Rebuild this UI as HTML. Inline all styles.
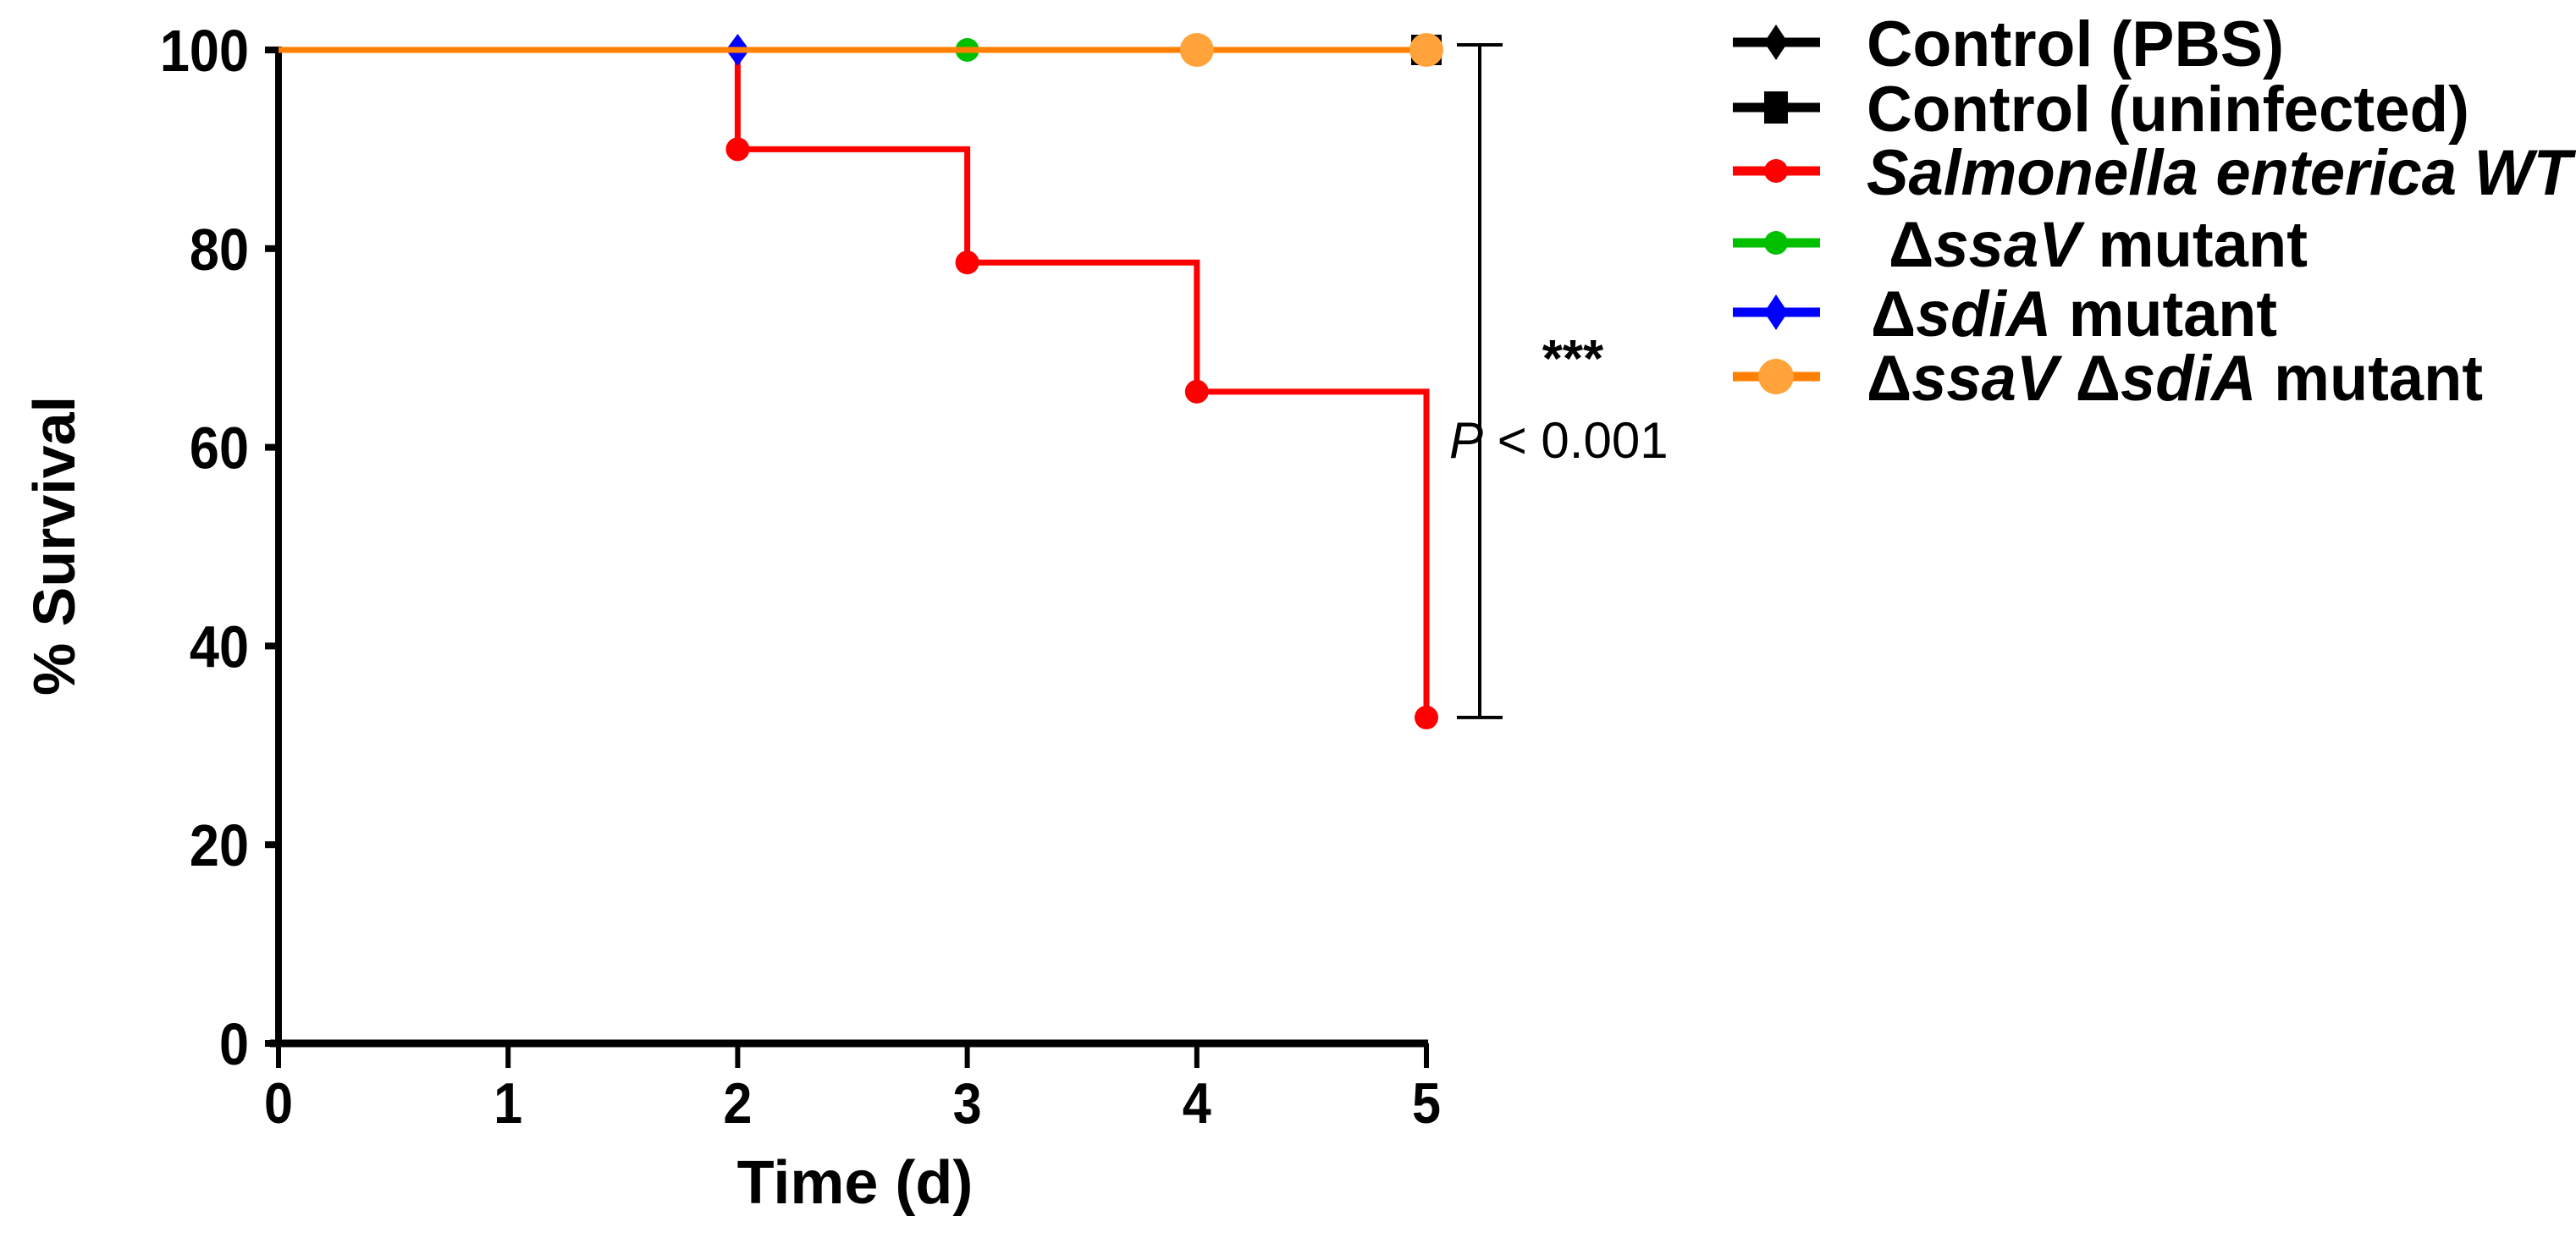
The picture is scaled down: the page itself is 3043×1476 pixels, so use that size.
<!DOCTYPE html>
<html><head><meta charset="utf-8"><style>
html,body{margin:0;padding:0;background:#fff;}
svg{display:block;font-family:"Liberation Sans",Arial,sans-serif;}
</style></head><body>
<svg id="chart" width="3043" height="1476" viewBox="0 0 3043 1476" xmlns="http://www.w3.org/2000/svg"></svg>
<script>
const days = [0, 1, 2, 3, 4, 5];
const yTicks = [0, 20, 40, 60, 80, 100];
const wtTimes = [0, 2, 3, 4, 5];
const wtSurvival = [100, 90, 78.6, 65.6, 32.8];
const wtMarkerTimes = [2, 3, 4, 5];
const flatSurvival = 100;
const ssaVMarkerTimes = [3];
const sdiAMarkerTimes = [2];
const doubleMarkerTimes = [4, 5];
const uninfectedMarkerTimes = [5];
const pbsMarkerTimes = [5];
const bracketRange = [32.8, 100];

const NS = 'http://www.w3.org/2000/svg';
const svg = document.getElementById('chart');
const X0 = 329, XW = 271.2, Y0 = 1233, YH = 11.74;
function xs(d){ return X0 + d * XW; }
function ys(v){ return Y0 - v * YH; }
function mk(tag, attrs, parent){
  const e = document.createElementNS(NS, tag);
  for (const k in attrs) e.setAttribute(k, attrs[k]);
  (parent || svg).appendChild(e);
  return e;
}
function squeeze(x, s){ return `matrix(${s},0,0,1,${x*(1-s)},0)`; }

const yAxis = mk('line', {x1: X0, y1: ys(100) - 4, x2: X0, y2: Y0, stroke: '#000', 'stroke-width': 8});


const xAxis = mk('line', {x1: X0 - 10, y1: Y0, x2: xs(5) + 2, y2: Y0, stroke: '#000', 'stroke-width': 9});



yTicks.forEach(v => {
  const t = mk('line', {x1: X0 - 16, y1: ys(v), x2: X0, y2: ys(v), stroke: '#000', 'stroke-width': 8});
  
  
  const l = mk('text', {x: 294, y: ys(v) + 25, 'text-anchor': 'end', 'font-size': 70, 'font-weight': 'bold', transform: squeeze(294, 0.9)});
  l.textContent = v;
  
  
});
days.forEach(d => {
  const t = mk('line', {x1: xs(d), y1: Y0, x2: xs(d), y2: Y0 + 29, stroke: '#000', 'stroke-width': 6});
  
  
  const l = mk('text', {x: xs(d), y: 1327, 'text-anchor': 'middle', 'font-size': 68, 'font-weight': 'bold', transform: squeeze(xs(d), 0.9)});
  l.textContent = d;
  
  
});

const xt = mk('text', {x: 1010, y: 1422, 'text-anchor': 'middle', 'font-size': 72, 'font-weight': 'bold'});
xt.textContent = 'Time (d)';


const yt = mk('text', {x: 0, y: 0, 'text-anchor': 'middle', 'font-size': 70, 'font-weight': 'bold', transform: 'translate(88,645) rotate(-90)'});
yt.textContent = '% Survival';



let d = 'M' + xs(wtTimes[0]) + ',' + ys(wtSurvival[0]);
for (let i = 1; i < wtTimes.length; i++) {
  d += ' H' + xs(wtTimes[i]) + ' V' + ys(wtSurvival[i]);
}
const wtLine = mk('path', {d: d, fill: 'none', stroke: '#ff0000', 'stroke-width': 7});


wtMarkerTimes.forEach(t => {
  const v = wtSurvival[wtTimes.indexOf(t)];
  const c = mk('ellipse', {cx: xs(t), cy: ys(v), rx: 14, ry: 14, fill: '#ff0000'});
  
  
});

uninfectedMarkerTimes.forEach(t => {
  const s = mk('rect', {x: xs(t) - 18, y: ys(flatSurvival) - 18, width: 36, height: 36, fill: '#000'});
  
  
});
ssaVMarkerTimes.forEach(t => {
  const c = mk('circle', {cx: xs(t), cy: ys(flatSurvival), r: 14, fill: '#00c000'});
  
  
});
sdiAMarkerTimes.forEach(t => {
  const x = xs(t), y = ys(flatSurvival);
  const p = mk('polygon', {points: `${x},${y-19} ${x+14},${y} ${x},${y+19} ${x-14},${y}`, fill: '#0000ff'});
  
  
});
const orLine = mk('line', {x1: xs(0), y1: ys(flatSurvival), x2: xs(5), y2: ys(flatSurvival), stroke: '#ff8000', 'stroke-width': 7});


doubleMarkerTimes.forEach(t => {
  const c = mk('circle', {cx: xs(t), cy: ys(flatSurvival), r: 20, fill: '#ffa33a'});
  
  
});

const bx = 1748;
const bg = mk('g', {});


mk('line', {x1: bx, y1: ys(bracketRange[1]) - 6, x2: bx, y2: ys(bracketRange[0]), stroke: '#000', 'stroke-width': 4}, bg);
mk('line', {x1: bx - 27, y1: ys(bracketRange[1]) - 6, x2: bx + 27, y2: ys(bracketRange[1]) - 6, stroke: '#000', 'stroke-width': 4}, bg);
mk('line', {x1: bx - 27, y1: ys(bracketRange[0]), x2: bx + 27, y2: ys(bracketRange[0]), stroke: '#000', 'stroke-width': 4}, bg);
const st = mk('text', {x: 1858, y: 445, 'text-anchor': 'middle', 'font-size': 62, 'font-weight': 'bold'});
st.textContent = '***';


const pv = mk('text', {x: 1712, y: 541, 'font-size': 60});
pv.innerHTML = '<tspan font-style="italic">P</tspan> &lt; 0.001';



const legendY = [50, 127, 202, 287, 369, 445];
const legendLabels = [
  'Control (PBS)', 'Control (uninfected)',
  '<tspan font-style="italic">Salmonella enterica WT</tspan>',
  '\u0394<tspan font-style="italic">ssaV</tspan> mutant',
  '\u0394<tspan font-style="italic">sdiA</tspan> mutant',
  '\u0394<tspan font-style="italic">ssaV</tspan> \u0394<tspan font-style="italic">sdiA</tspan> mutant'
];
const legendColors = ['#000', '#000', '#ff0000', '#00c000', '#0000ff', '#ff8000'];
const legendTextX = [2205, 2205, 2205, 2231, 2210, 2205];
const legendTextW = [493, 712, 833, 495, 480, 728];
legendY.forEach((y, i) => {
  const g = mk('g', {});
  
  
  mk('line', {x1: 2047, y1: y, x2: 2150, y2: y, stroke: legendColors[i], 'stroke-width': 11}, g);
  const cx = 2098;
  if (i === 0 || i === 4) mk('polygon', {points: `${cx},${y-21} ${cx+14},${y} ${cx},${y+21} ${cx-14},${y}`, fill: legendColors[i]}, g);
  else if (i === 1) mk('rect', {x: cx - 14, y: y - 19, width: 28, height: 38, fill: '#000'}, g);
  else if (i === 5) mk('ellipse', {cx: cx, cy: y, rx: 21, ry: 21, fill: '#ffa33a'}, g);
  else mk('ellipse', {cx: cx, cy: y, rx: 14, ry: 14, fill: legendColors[i]}, g);
  const t = mk('text', {x: legendTextX[i], y: y + 28, 'font-size': 76, 'font-weight': 'bold', textLength: legendTextW[i], lengthAdjust: 'spacingAndGlyphs'}, g);
  t.innerHTML = legendLabels[i];
});
</script>
</body></html>
